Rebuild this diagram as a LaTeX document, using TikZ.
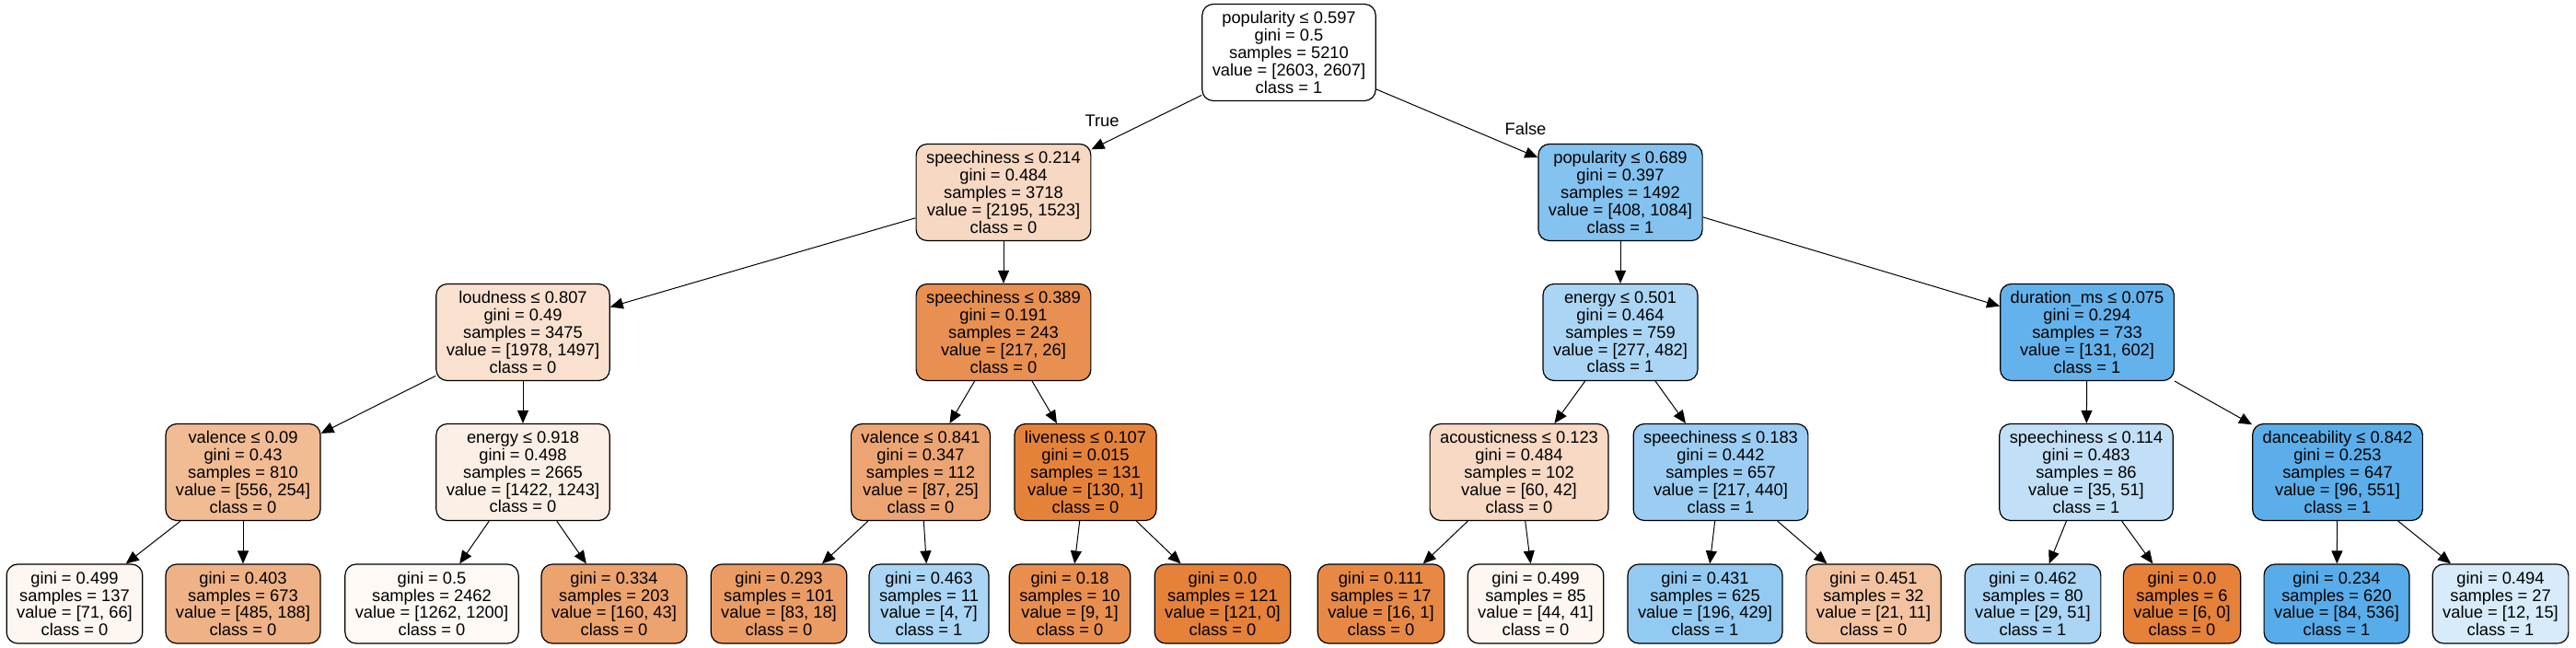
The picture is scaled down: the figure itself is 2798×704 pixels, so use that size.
\documentclass[tikz,border=0pt]{standalone}
\usepackage{fontspec}
\setmainfont{Liberation Sans}
\usetikzlibrary{arrows.meta}
\definecolor{cspA}{RGB}{247,216,194}
\definecolor{cpopB}{RGB}{132,194,239}
\definecolor{cloud}{RGB}{249,224,207}
\definecolor{cspD}{RGB}{232,144,81}
\definecolor{cenE}{RGB}{171,213,244}
\definecolor{cdur}{RGB}{100,178,235}
\definecolor{cvalG}{RGB}{241,187,148}
\definecolor{cenH}{RGB}{252,239,230}
\definecolor{cvalI}{RGB}{236,165,114}
\definecolor{clive}{RGB}{229,130,58}
\definecolor{cacou}{RGB}{247,217,196}
\definecolor{cspL}{RGB}{155,205,242}
\definecolor{cspM}{RGB}{193,224,247}
\definecolor{cdance}{RGB}{91,174,233}
\begin{document}
\begin{tikzpicture}[x=1pt,y=1pt,
        cond/.style={draw,rounded corners=12pt,line width=1.2pt,align=center,inner xsep=11pt,inner ysep=0pt,minimum height=105pt,font=\fontsize{18.3}{18.8}\selectfont},
        leaf/.style={cond,minimum height=86pt},
        link/.style={-{Triangle[length=14pt,width=12pt]},line width=1pt}]
        \useasboundingbox (0,0) rectangle (2798,-704);
        \node[cond,fill=white] (root) at (1400,-57) {popularity ≤ 0.597\\gini = 0.5\\samples = 5210\\value = [2603, 2607]\\class = 1};
        \node[cond,fill=cspA] (spch1) at (1090,-209) {speechiness ≤ 0.214\\gini = 0.484\\samples = 3718\\value = [2195, 1523]\\class = 0};
        \node[cond,fill=cpopB] (pop2) at (1760,-209) {popularity ≤ 0.689\\gini = 0.397\\samples = 1492\\value = [408, 1084]\\class = 1};
        \node[cond,fill=cloud] (loud) at (568,-361) {loudness ≤ 0.807\\gini = 0.49\\samples = 3475\\value = [1978, 1497]\\class = 0};
        \node[cond,fill=cspD] (spch3) at (1090,-361) {speechiness ≤ 0.389\\gini = 0.191\\samples = 243\\value = [217, 26]\\class = 0};
        \node[cond,fill=cenE] (enrg1) at (1760,-361) {energy ≤ 0.501\\gini = 0.464\\samples = 759\\value = [277, 482]\\class = 1};
        \node[cond,fill=cdur] (dur) at (2267,-361) {duration\_ms ≤ 0.075\\gini = 0.294\\samples = 733\\value = [131, 602]\\class = 1};
        \node[cond,fill=cvalG] (val1) at (264,-513) {valence ≤ 0.09\\gini = 0.43\\samples = 810\\value = [556, 254]\\class = 0};
        \node[cond,fill=cenH] (enrg2) at (568,-513) {energy ≤ 0.918\\gini = 0.498\\samples = 2665\\value = [1422, 1243]\\class = 0};
        \node[cond,fill=cvalI] (val2) at (1000,-513) {valence ≤ 0.841\\gini = 0.347\\samples = 112\\value = [87, 25]\\class = 0};
        \node[cond,fill=clive] (live) at (1179,-513) {liveness ≤ 0.107\\gini = 0.015\\samples = 131\\value = [130, 1]\\class = 0};
        \node[cond,fill=cacou] (acou) at (1650,-513) {acousticness ≤ 0.123\\gini = 0.484\\samples = 102\\value = [60, 42]\\class = 0};
        \node[cond,fill=cspL] (spch4) at (1869,-513) {speechiness ≤ 0.183\\gini = 0.442\\samples = 657\\value = [217, 440]\\class = 1};
        \node[cond,fill=cspM] (spch5) at (2266,-513) {speechiness ≤ 0.114\\gini = 0.483\\samples = 86\\value = [35, 51]\\class = 1};
        \node[cond,fill=cdance] (dance) at (2539,-513) {danceability ≤ 0.842\\gini = 0.253\\samples = 647\\value = [96, 551]\\class = 1};
        \node[leaf,fill={rgb,255:red,253;green,246;blue,241}] (val1a) at (81,-656) {gini = 0.499\\samples = 137\\value = [71, 66]\\class = 0};
        \node[leaf,fill={rgb,255:red,239;green,178;blue,134}] (val1b) at (264,-656) {gini = 0.403\\samples = 673\\value = [485, 188]\\class = 0};
        \node[leaf,fill={rgb,255:red,254;green,249;blue,245}] (enrg2a) at (469,-656) {gini = 0.5\\samples = 2462\\value = [1262, 1200]\\class = 0};
        \node[leaf,fill={rgb,255:red,236;green,163;blue,110}] (enrg2b) at (667,-656) {gini = 0.334\\samples = 203\\value = [160, 43]\\class = 0};
        \node[leaf,fill={rgb,255:red,235;green,156;blue,100}] (val2a) at (846,-656) {gini = 0.293\\samples = 101\\value = [83, 18]\\class = 0};
        \node[leaf,fill={rgb,255:red,170;green,213;blue,244}] (val2b) at (1009,-656) {gini = 0.463\\samples = 11\\value = [4, 7]\\class = 1};
        \node[leaf,fill={rgb,255:red,232;green,143;blue,79}] (livea) at (1162,-656) {gini = 0.18\\samples = 10\\value = [9, 1]\\class = 0};
        \node[leaf,fill={rgb,255:red,229;green,129;blue,57}] (liveb) at (1328,-656) {gini = 0.0\\samples = 121\\value = [121, 0]\\class = 0};
        \node[leaf,fill={rgb,255:red,231;green,137;blue,69}] (acoua) at (1500,-656) {gini = 0.111\\samples = 17\\value = [16, 1]\\class = 0};
        \node[leaf,fill={rgb,255:red,253;green,246;blue,241}] (acoub) at (1668,-656) {gini = 0.499\\samples = 85\\value = [44, 41]\\class = 0};
        \node[leaf,fill={rgb,255:red,147;green,202;blue,241}] (spch4a) at (1852,-656) {gini = 0.431\\samples = 625\\value = [196, 429]\\class = 1};
        \node[leaf,fill={rgb,255:red,243;green,195;blue,161}] (spch4b) at (2035,-656) {gini = 0.451\\samples = 32\\value = [21, 11]\\class = 0};
        \node[leaf,fill={rgb,255:red,170;green,213;blue,244}] (spch5a) at (2208,-656) {gini = 0.462\\samples = 80\\value = [29, 51]\\class = 1};
        \node[leaf,fill={rgb,255:red,229;green,129;blue,57}] (spch5b) at (2370,-656) {gini = 0.0\\samples = 6\\value = [6, 0]\\class = 0};
        \node[leaf,fill={rgb,255:red,88;green,172;blue,233}] (dancea) at (2538,-656) {gini = 0.234\\samples = 620\\value = [84, 536]\\class = 1};
        \node[leaf,fill={rgb,255:red,215;green,235;blue,250}] (danceb) at (2716,-656) {gini = 0.494\\samples = 27\\value = [12, 15]\\class = 1};
        \node[font=\fontsize{18.3}{18.8}\selectfont] (truelab) at (1197,-131) {True};
        \node[font=\fontsize{18.3}{18.8}\selectfont] (falselab) at (1657,-140) {False};
        \path[link] (root) edge (spch1) edge (pop2);
        \path[link] (spch1) edge (loud) edge (spch3);
        \path[link] (pop2) edge (enrg1) edge (dur);
        \path[link] (loud) edge (val1) edge (enrg2);
        \path[link] (spch3) edge (val2) edge (live);
        \path[link] (enrg1) edge (acou) edge (spch4);
        \path[link] (dur) edge (spch5) edge (dance);
        \path[link] (val1) edge (val1a) edge (val1b);
        \path[link] (enrg2) edge (enrg2a) edge (enrg2b);
        \path[link] (val2) edge (val2a) edge (val2b);
        \path[link] (live) edge (livea) edge (liveb);
        \path[link] (acou) edge (acoua) edge (acoub);
        \path[link] (spch4) edge (spch4a) edge (spch4b);
        \path[link] (spch5) edge (spch5a) edge (spch5b);
        \path[link] (dance) edge (dancea) edge (danceb);
\end{tikzpicture}
\end{document}
